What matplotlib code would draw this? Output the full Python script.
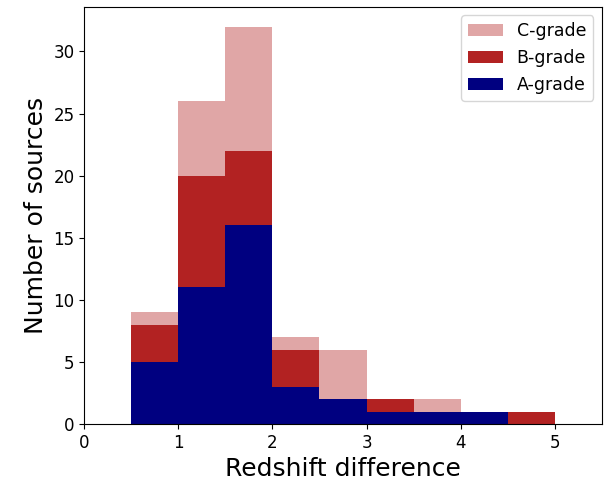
import numpy as np
from matplotlib import pyplot as plt

# counts per 0.5-wide redshift-difference bin, 0 .. 5.5
bin_edges = np.arange(0, 5.51, 0.5)
a_grade = [0, 5, 11, 16, 3, 2, 1, 1, 1, 0, 0]
b_grade = [0, 3, 9, 6, 3, 0, 1, 0, 0, 1, 0]
c_grade = [0, 1, 6, 10, 1, 4, 0, 1, 0, 0, 0]

centres = bin_edges[:-1] + 0.25

fig, ax = plt.subplots(figsize=(6.06, 4.83), dpi=100)
n, bins, patches = ax.hist(
    [centres, centres, centres],
    bins=bin_edges,
    weights=[a_grade, b_grade, c_grade],
    stacked=True,
    histtype="stepfilled",
    color=["navy", "firebrick", (178/255, 34/255, 34/255, 0.4)],
    label=["A-grade", "B-grade", "C-grade"],
)

ax.set_xlim(0, 5.5)
ax.set_xlabel("Redshift difference", fontsize=18)
ax.set_ylabel("Number of sources", fontsize=18)
ax.tick_params(labelsize=12)
ax.legend(fontsize=12.5, loc="upper right")

plt.subplots_adjust(left=0.139, right=0.993, top=0.986, bottom=0.122)
plt.savefig("out.png")
